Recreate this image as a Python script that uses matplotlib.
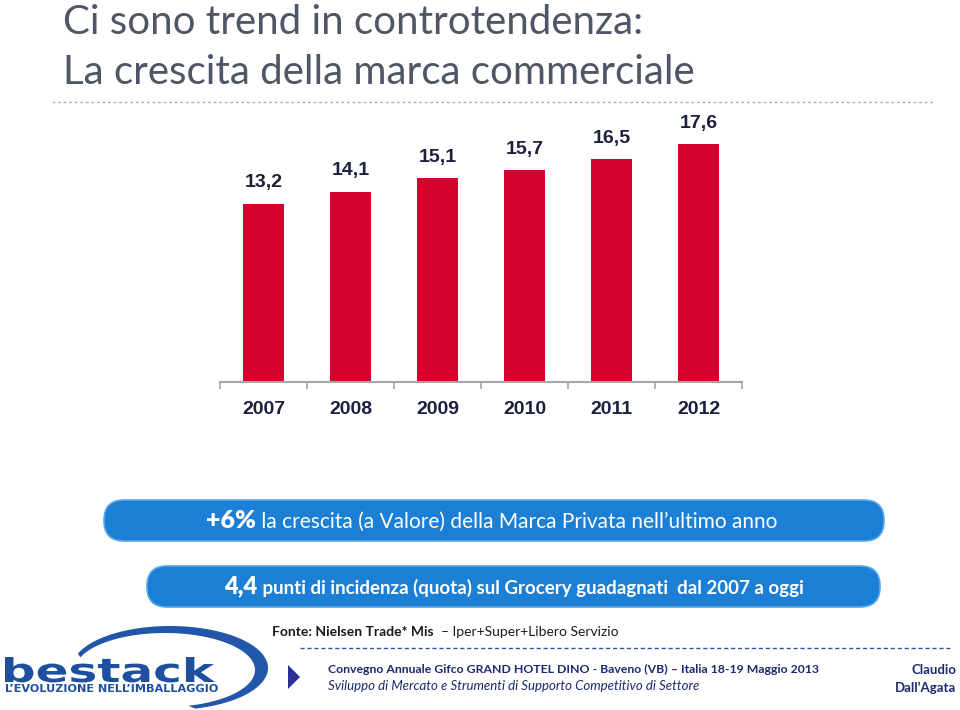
import numpy as np
import matplotlib.pyplot as plt
from matplotlib.patches import FancyBboxPatch, Polygon, PathPatch
from matplotlib.offsetbox import TextArea, HPacker, AnnotationBbox
from matplotlib.textpath import TextPath
from matplotlib.font_manager import FontProperties
from matplotlib.transforms import Affine2D

years = ['2007', '2008', '2009', '2010', '2011', '2012']
quota = [13.2, 14.1, 15.1, 15.7, 16.5, 17.6]

title_lines = ['Ci sono trend in controtendenza:', 'La crescita della marca commerciale']
pill_1 = ['+6%', ' la crescita (a Valore) della Marca Privata nell\u2019ultimo anno']
pill_2 = ['4,4', ' punti di incidenza (quota) sul Grocery guadagnati  dal 2007 a oggi']

RED = '#d6002c'
BLUE = '#1b7fd5'
NAVY = '#1b2a6e'
LOGO = '#1f50a0'
TXT = 'Lato'

fig = plt.figure(figsize=(9.6, 7.1), dpi=100)

# full-figure overlay in pixel units for the slide decorations
ov = fig.add_axes([0, 0, 1, 1])
ov.set_xlim(0, 960)
ov.set_ylim(710, 0)
ov.axis('off')

# title
ov.text(63, 22, title_lines[0], fontsize=29, family=TXT, color='#4f5665', va='center')
ov.text(63, 73, title_lines[1], fontsize=29, family=TXT, color='#4f5665', va='center')
ov.plot([52, 935], [102, 102], color='#9fb2c8', lw=1, ls=(0, (2, 2)))

# bar chart
ax = fig.add_axes([220 / 960, 1 - 382 / 710, 522 / 960, 270 / 710])
x = np.arange(len(years))
ax.bar(x, quota, width=0.48, color=RED, zorder=2)
ax.set_xlim(-0.5, len(years) - 0.5)
ax.set_ylim(0, 20)
for s in ['top', 'right', 'left']:
    ax.spines[s].set_visible(False)
ax.spines['bottom'].set_color('#a6a6a6')
ax.spines['bottom'].set_linewidth(1.5)
ax.set_yticks([])
ax.set_xticks(x, years)
ax.set_xticks(np.arange(-0.5, len(years)), minor=True)
ax.tick_params(axis='x', which='major', length=0, pad=14)
ax.tick_params(axis='x', which='minor', length=5, width=1.2, color='#a6a6a6')
for lab in ax.get_xticklabels():
    lab.set_fontsize(14)
    lab.set_fontweight('bold')
    lab.set_family('Liberation Sans')
    lab.set_color('#1c1f3d')
for xi, v in zip(x, quota):
    ax.annotate(f'{v:.1f}'.replace('.', ','), (xi, v), xytext=(0, 9),
                textcoords='offset points', ha='center', va='bottom',
                fontsize=14, fontweight='bold', family='Liberation Sans', color='#1c1f3d')
ax.patch.set_alpha(0)


def pill(x0, x1, y0, y1, parts, cx, big, small, body_weight):
    ov.add_patch(FancyBboxPatch((x0, y0), x1 - x0, y1 - y0,
                                boxstyle='round,pad=0,rounding_size=20',
                                fc=BLUE, ec='#5aa7e6', lw=1.2))
    box = HPacker(children=[
        TextArea(parts[0], textprops=dict(color='white', fontsize=big, fontweight='heavy', family=TXT)),
        TextArea(parts[1], textprops=dict(color='white', fontsize=small, fontweight=body_weight, family=TXT)),
    ], align='baseline', pad=0, sep=0)
    ov.add_artist(AnnotationBbox(box, (cx, (y0 + y1) / 2), frameon=False,
                                 box_alignment=(0.5, 0.5)))


pill(104, 884, 500, 541, pill_1, 492, 18, 15, 'normal')
pill(147, 880, 566, 607, pill_2, 514, 17, 13.5, 'bold')

# footer
src = HPacker(children=[
    TextArea('Fonte: Nielsen Trade* Mis', textprops=dict(color='#1a1a1a', fontsize=10, fontweight='bold', family=TXT)),
    TextArea('  \u2013 Iper+Super+Libero Servizio', textprops=dict(color='#1a1a1a', fontsize=10, family=TXT)),
], align='baseline', pad=0, sep=0)
ov.add_artist(AnnotationBbox(src, (272, 632), frameon=False, box_alignment=(0, 0.5)))
ov.plot([300, 950], [648, 648], color='#3a4fa0', lw=1, ls=(0, (3, 2)))

ov.add_patch(Polygon([[288, 665], [300, 677], [288, 689]], closed=True, fc='#2b2f9c', ec='none'))
ov.text(328, 669, 'Convegno Annuale Gifco GRAND HOTEL DINO - Baveno (VB) \u2013 Italia 18-19 Maggio 2013',
        fontsize=8.8, fontweight='bold', family=TXT, color=NAVY, va='center')
ov.text(328, 686, 'Sviluppo di Mercato e Strumenti di Supporto Competitivo di Settore',
        fontsize=9.5, style='italic', family=TXT, color=NAVY, va='center')
ov.text(956, 670, 'Claudio', fontsize=9.5, fontweight='bold', family=TXT, color=NAVY, ha='right', va='center')
ov.text(956, 688, 'Dall\u2019Agata', fontsize=9.5, fontweight='bold', family=TXT, color=NAVY, ha='right', va='center')

# logo swoosh
t_out = np.linspace(np.radians(160), np.radians(-75), 90)
t_in = t_out[::-1]
outer = np.c_[170 + 98 * np.cos(t_out), 668 - 42 * np.sin(t_out)]
inner = np.c_[165 + 90 * np.cos(t_in), 670 - 37 * np.sin(t_in)]
ov.add_patch(Polygon(np.vstack([outer, inner]), closed=True, fc='#2156a8', ec='none'))

# logo wordmark, stretched into its box
tp = TextPath((0, 0), 'bestack', size=1, prop=FontProperties(family='DejaVu Sans', weight='bold'))
ext = tp.get_extents()
sx = (215 - 5) / ext.width
sy = (682 - 657) / ext.y1
tr = Affine2D().translate(-ext.x0, 0).scale(sx, -sy).translate(5, 682)
ov.add_patch(PathPatch(tr.transform_path(tp), fc=LOGO, ec='none'))
ov.text(5, 689, 'L\u2019EVOLUZIONE NELL\u2019IMBALLAGGIO', fontsize=8.1, fontweight='bold',
        family='DejaVu Sans', color=LOGO, va='center')

fig.savefig('out.png', dpi=100, facecolor='white')
